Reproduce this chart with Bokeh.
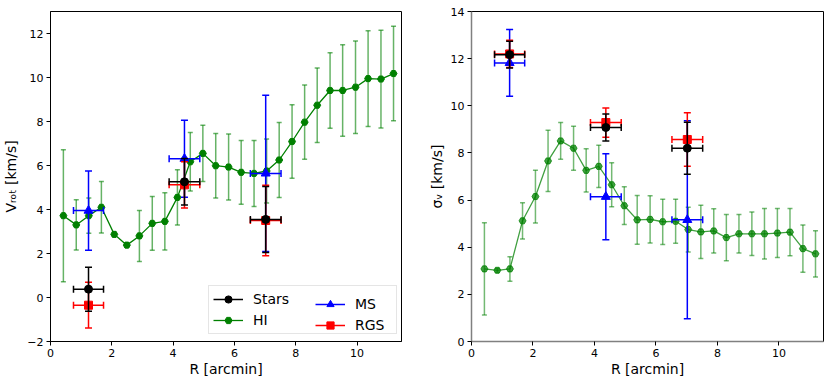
import numpy as np
from bokeh.plotting import figure
from bokeh.layouts import row
from bokeh.models import Legend, LegendItem, FixedTicker
from bokeh.embed import file_html
from bokeh.resources import INLINE

# ---------------- data ----------------
R_hi = [0.42, 0.84, 1.25, 1.66, 2.08, 2.49, 2.90, 3.32, 3.73, 4.14, 4.56, 4.97, 5.39, 5.81,
        6.22, 6.64, 7.05, 7.46, 7.88, 8.29, 8.70, 9.12, 9.53, 9.95, 10.36, 10.78, 11.19]
Vrot_hi = [3.72, 3.30, 3.72, 4.10, 2.87, 2.38, 2.80, 3.37, 3.46, 4.55, 6.17, 6.55, 5.99, 5.93,
           5.69, 5.64, 5.75, 6.25, 7.09, 7.97, 8.74, 9.41, 9.41, 9.56, 9.95, 9.93, 10.18]
Vrot_hi_err = [3.00, 1.14, 0.80, 1.17, 0.10, 0.10, 1.16, 1.22, 1.30, 1.26, 1.33, 1.28, 1.47, 1.50,
               1.45, 1.50, 1.45, 1.70, 1.67, 1.69, 1.69, 1.72, 2.08, 2.10, 2.18, 2.22, 2.15]
Sig_hi = [3.08, 3.02, 3.08, 5.12, 6.15, 7.66, 8.51, 8.20, 7.26, 7.43, 6.65, 5.76, 5.16, 5.18,
          5.08, 5.10, 4.75, 4.65, 4.69, 4.41, 4.57, 4.57, 4.57, 4.60, 4.64, 3.94, 3.72]
Sig_hi_err = [1.96, 0.08, 0.52, 0.77, 1.12, 1.30, 0.78, 0.93, 0.92, 0.90, 0.93, 0.80, 1.03, 1.00,
              0.96, 0.93, 0.95, 1.13, 0.94, 0.98, 0.82, 0.92, 1.07, 1.04, 1.00, 1.00, 0.98]

R_bin = [1.24, 4.37, 7.02]
R_bin_err = [0.49, 0.50, 0.50]

Vrot_stars = [0.38, 5.26, 3.55]
Vrot_stars_err = [1.00, 1.06, 1.50]
Vrot_ms = [3.95, 6.31, 5.64]
Vrot_ms_err = [1.80, 1.75, 3.55]
Vrot_rgs = [-0.35, 5.12, 3.50]
Vrot_rgs_err = [1.04, 1.05, 1.60]

Sig_stars = [12.17, 9.08, 8.20]
Sig_stars_err = [0.57, 0.57, 1.10]
Sig_ms = [11.82, 6.14, 5.16]
Sig_ms_err = [1.42, 1.82, 4.20]
Sig_rgs = [12.20, 9.29, 8.57]
Sig_rgs_err = [0.58, 0.62, 1.13]

FONT = "DejaVu Sans"


def make_fig(width, border_left, border_right, y_range, yticks, ylabel, minus_labels, ylab_standoff):
    p = figure(width=width, height=382, x_range=(0, 11.45), y_range=y_range,
               output_backend="svg", toolbar_location=None,
               min_border_left=border_left, min_border_right=border_right,
               min_border_top=11, min_border_bottom=41)
    p.xgrid.visible = False
    p.ygrid.visible = False
    p.outline_line_color = "black"
    p.outline_line_width = 1
    p.background_fill_color = "white"
    p.border_fill_color = "white"
    p.xaxis.ticker = FixedTicker(ticks=[0, 2, 4, 6, 8, 10])
    p.yaxis.ticker = FixedTicker(ticks=yticks)
    if minus_labels:
        p.yaxis.major_label_overrides = {t: ("\u2212" + str(abs(t)) if t < 0 else str(t)) for t in yticks}
    p.xaxis.axis_label = "R [arcmin]"
    p.yaxis.axis_label = ylabel
    for ax in (p.xaxis, p.yaxis):
        ax.major_tick_in = 0
        ax.major_tick_out = 4
        ax.minor_tick_in = 0
        ax.minor_tick_out = 0
        ax.major_label_text_font = FONT
        ax.major_label_text_font_size = "11px"
        ax.major_label_text_color = "black"
        ax.axis_label_text_font = FONT
        ax.axis_label_text_font_size = "14px"
        ax.axis_label_text_font_style = "normal"
        ax.axis_label_text_color = "black"
        ax.major_label_standoff = 3
        ax.axis_line_color = "black"
        ax.major_tick_line_color = "black"
    p.xaxis.axis_label_standoff = 1
    p.yaxis.axis_label_standoff = ylab_standoff
    return p


def errorbar(p, x, y, yerr, xerr, color, size, marker, cap, bar_alpha, mk_alpha, line=False, lw=1.5):
    xs = list(x)
    ys = list(y)
    y0 = [a - e for a, e in zip(ys, yerr)]
    y1 = [a + e for a, e in zip(ys, yerr)]
    p.segment(x0=xs, y0=y0, x1=xs, y1=y1, line_color=color, line_width=lw, line_alpha=bar_alpha)
    p.scatter(x=xs + xs, y=y0 + y1, marker="dash", size=cap, line_color=color,
              line_width=lw, line_alpha=bar_alpha)
    rs = []
    if xerr is not None:
        x0 = [a - e for a, e in zip(xs, xerr)]
        x1 = [a + e for a, e in zip(xs, xerr)]
        rs.append(p.segment(x0=x0, y0=ys, x1=x1, y1=ys, line_color=color, line_width=lw,
                            line_alpha=bar_alpha))
        p.scatter(x=x0 + x1, y=ys + ys, marker="dash", angle=np.pi / 2, size=cap,
                  line_color=color, line_width=lw, line_alpha=bar_alpha)
    if line:
        rs.append(p.line(xs, ys, line_color=color, line_width=1.3, line_alpha=mk_alpha))
    rs.append(p.scatter(x=xs, y=ys, marker=marker, size=size, fill_color=color, line_color=color,
                        fill_alpha=mk_alpha, line_alpha=mk_alpha))
    return rs


def style_legend(lg):
    lg.label_text_font = FONT
    lg.label_text_font_size = "14px"
    lg.label_text_color = "black"
    lg.glyph_width = 30
    lg.glyph_height = 18
    lg.label_height = 18
    lg.label_standoff = 10
    lg.spacing = 3
    lg.padding = 4
    lg.margin = 0


# ---------------- left panel ----------------
p1 = make_fig(420, 49, 19, (-2, 13), [-2, 0, 2, 4, 6, 8, 10, 12],
              "V\u1d63\u2092\u209c [km/s]", True, 5)
r_hi = errorbar(p1, R_hi, Vrot_hi, Vrot_hi_err, None, "green", 7, "hex", 5, 0.6, 1.0, line=True)
r_ms = errorbar(p1, R_bin, Vrot_ms, Vrot_ms_err, R_bin_err, "blue", 9, "triangle", 7, 1.0, 1.0)
r_rgs = errorbar(p1, R_bin, Vrot_rgs, Vrot_rgs_err, R_bin_err, "red", 8, "square", 7, 1.0, 1.0)
r_st = errorbar(p1, R_bin, Vrot_stars, Vrot_stars_err, R_bin_err, "black", 8, "circle", 7, 1.0, 1.0)

legend1 = Legend(items=[LegendItem(label="Stars", renderers=r_st),
                        LegendItem(label="HI", renderers=r_hi)],
                 location=(158, 7))
style_legend(legend1)
legend1.label_width = 139
legend1.border_line_color = "#cccccc"
legend1.border_line_width = 1
legend1.background_fill_alpha = 0.8

legend2 = Legend(items=[LegendItem(label="MS", renderers=r_ms),
                        LegendItem(label="RGS", renderers=r_rgs)],
                 location=(265, 7))
style_legend(legend2)
legend2.border_line_color = None
legend2.background_fill_alpha = 0.0

p1.add_layout(legend1)
p1.add_layout(legend2)

# ---------------- right panel ----------------
p2 = make_fig(409, 51, 6, (0, 14), [0, 2, 4, 6, 8, 10, 12, 14], "\u03c3\u1d65 [km/s]", False, 3)
errorbar(p2, R_hi, Sig_hi, Sig_hi_err, None, "green", 7, "hex", 5, 0.55, 0.75, line=True)
errorbar(p2, R_bin, Sig_ms, Sig_ms_err, R_bin_err, "blue", 9, "triangle", 7, 1.0, 1.0)
errorbar(p2, R_bin, Sig_rgs, Sig_rgs_err, R_bin_err, "red", 8, "square", 7, 1.0, 1.0)
errorbar(p2, R_bin, Sig_stars, Sig_stars_err, R_bin_err, "black", 8, "circle", 7, 1.0, 1.0)
for ax in (p2.xaxis, p2.yaxis):
    ax.axis_line_color = "#808080"
    ax.axis_line_width = 1.5

layout = row(p1, p2)
open("out.html", "w").write(file_html(layout, INLINE))
